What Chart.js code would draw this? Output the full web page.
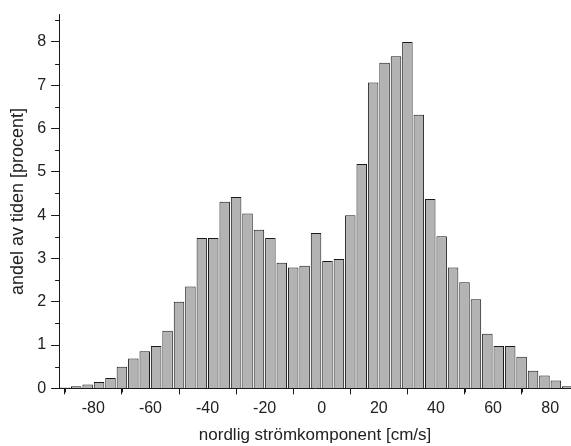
<!DOCTYPE html>
<html>
<head>
<meta charset="utf-8">
<script src="https://cdn.jsdelivr.net/npm/chart.js@4/dist/chart.umd.min.js"></script>
<style>
  html, body { margin: 0; padding: 0; background: #fff; }
  #wrap { width: 571px; height: 446px; }
</style>
</head>
<body>
<div id="wrap"><canvas id="histChart"></canvas></div>
<script>
// Histogram data: bin centres in cm/s (bins are 4 cm/s wide)
const binCenters = [
    -90, -86, -82, -78, -74, -70, -66, -62, -58, -54, -50, -46,
    -42, -38, -34, -30, -26, -22, -18, -14, -10, -6, -2,
    2, 6, 10, 14, 18, 22, 26, 30, 34, 38,
    42, 46, 50, 54, 58, 62, 66, 70, 74, 78, 82, 86
];

// share of time per bin [percent]
const shares = [
    0.02, 0.05, 0.09, 0.15, 0.24, 0.50, 0.69, 0.86, 0.98, 1.33, 2.00, 2.35,
    3.47, 3.47, 4.31, 4.42, 4.04, 3.66, 3.47, 2.90, 2.79, 2.83, 3.59,
    2.94, 2.99, 4.00, 5.18, 7.06, 7.52, 7.67, 8.00, 6.32, 4.37,
    3.51, 2.79, 2.45, 2.06, 1.26, 0.98, 0.98, 0.73, 0.41, 0.30, 0.18, 0.05
];

// Axis ticks
const xTicks = [-80, -60, -40, -20, 0, 20, 40, 60, 80];
const xMinorTicks = [-90, -70, -50, -30, -10, 10, 30, 50, 70];
const yTicks = [0, 1, 2, 3, 4, 5, 6, 7, 8];
const yMinorTicks = [0.5, 1.5, 2.5, 3.5, 4.5, 5.5, 6.5, 7.5, 8.5];

const axisColor = '#1a1a1a';
const fontFamily = '"Liberation Sans", Arial, sans-serif';

// Short minor tick marks, placed through the scales
const minorTicksPlugin = {
    id: 'minorTicks',
    afterDraw(chart) {
        const ctx = chart.ctx;
        const xScale = chart.scales.x;
        const yScale = chart.scales.y;
        const area = chart.chartArea;
        ctx.save();
        ctx.strokeStyle = axisColor;
        ctx.lineWidth = 1;
        ctx.beginPath();
        xMinorTicks.forEach(v => {
            const px = Math.round(xScale.getPixelForValue(v)) + 0.5;
            ctx.moveTo(px, area.bottom);
            ctx.lineTo(px, area.bottom + 4);
        });
        yMinorTicks.forEach(v => {
            const py = Math.round(yScale.getPixelForValue(v)) + 0.5;
            if (py < area.top) return;
            ctx.moveTo(area.left - 4, py);
            ctx.lineTo(area.left, py);
        });
        ctx.stroke();
        ctx.restore();
    }
};

document.addEventListener('DOMContentLoaded', () => {
    const ctx = document.getElementById('histChart').getContext('2d');
    new Chart(ctx, {
        type: 'bar',
        data: {
            datasets: [{
                label: 'andel av tiden',
                data: binCenters.map((c, i) => ({ x: c, y: shares[i] })),
                backgroundColor: '#b3b3b3',
                borderColor: '#1a1a1a',
                borderWidth: 1,
                barPercentage: 0.92,
                categoryPercentage: 1.0
            }]
        },
        options: {
            responsive: true,
            maintainAspectRatio: false,
            animation: false,
            layout: {
                padding: { top: 12, right: 0, left: 7, bottom: 0 }
            },
            plugins: {
                legend: { display: false },
                tooltip: { enabled: false }
            },
            scales: {
                x: {
                    type: 'linear',
                    min: -92,
                    max: 87.3,
                    offset: false,
                    afterBuildTicks: axis => {
                        axis.ticks = xTicks.map(v => ({ value: v }));
                    },
                    grid: {
                        drawOnChartArea: false,
                        drawTicks: true,
                        tickLength: 6,
                        color: axisColor
                    },
                    border: { color: axisColor, width: 1 },
                    ticks: {
                        color: '#222',
                        padding: 5,
                        maxRotation: 0,
                        font: { family: fontFamily, size: 16 }
                    },
                    title: {
                        display: true,
                        text: 'nordlig strömkomponent [cm/s]',
                        color: '#222',
                        padding: { top: 2, bottom: 0 },
                        font: { family: fontFamily, size: 17 }
                    }
                },
                y: {
                    min: 0,
                    max: 8.63,
                    afterBuildTicks: axis => {
                        axis.ticks = yTicks.map(v => ({ value: v }));
                    },
                    grid: {
                        drawOnChartArea: false,
                        drawTicks: true,
                        tickLength: 8,
                        color: axisColor
                    },
                    border: { color: axisColor, width: 1 },
                    ticks: {
                        color: '#222',
                        padding: 5,
                        font: { family: fontFamily, size: 16 }
                    },
                    title: {
                        display: true,
                        text: 'andel av tiden [procent]',
                        color: '#222',
                        padding: { top: 0, bottom: 3.6 },
                        font: { family: fontFamily, size: 18 }
                    }
                }
            }
        },
        plugins: [minorTicksPlugin]
    });
});
</script>
</body>
</html>
